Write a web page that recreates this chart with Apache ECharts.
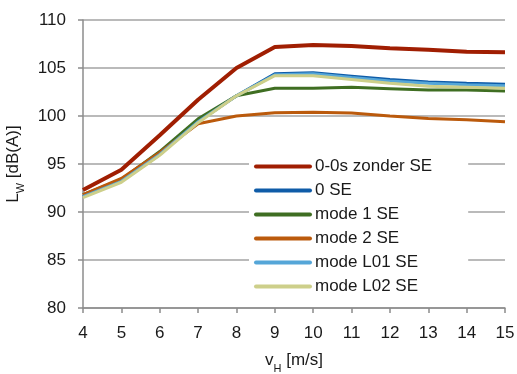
<!DOCTYPE html>
<html>
<head>
<meta charset="utf-8">
<script src="https://cdn.jsdelivr.net/npm/echarts@6/dist/echarts.min.js"></script>
<style>
  html, body { margin: 0; padding: 0; background: #fff; }
  #chart { width: 517px; height: 374px; }
</style>
</head>
<body>
<div id="chart"></div>
<script>
// Wind speed at hub height (m/s)
const windSpeeds = [4, 5, 6, 7, 8, 9, 10, 11, 12, 13, 14, 15];

// Sound power level per operating mode, dB(A)
const zonderSE = [92.3, 94.4, 98.0, 101.7, 105.0, 107.2, 107.4, 107.3, 107.05, 106.9, 106.7, 106.65];
const se0      = [91.6, 93.2, 96.0, 99.4, 102.1, 104.4, 104.5, 104.15, 103.8, 103.55, 103.4, 103.3];
const mode1SE  = [91.8, 93.4, 96.3, 99.7, 102.1, 102.9, 102.9, 103.0, 102.85, 102.7, 102.7, 102.6];
const mode2SE  = [91.8, 93.5, 96.2, 99.2, 100.0, 100.35, 100.4, 100.3, 100.0, 99.75, 99.6, 99.4];
const modeL01  = [91.6, 93.2, 96.0, 99.4, 102.1, 104.3, 104.4, 104.0, 103.65, 103.4, 103.25, 103.15];
const modeL02  = [91.5, 93.1, 95.9, 99.3, 102.1, 104.2, 104.2, 103.8, 103.4, 103.1, 103.0, 102.9];

const seriesNames = ['0-0s zonder SE', '0 SE', 'mode 1 SE', 'mode 2 SE', 'mode L01 SE', 'mode L02 SE'];
const seriesValues = [zonderSE, se0, mode1SE, mode2SE, modeL01, modeL02];
const seriesColors = ['#a01e02', '#0f5ca8', '#3f6e22', '#bb5a0c', '#55a6d8', '#cdcf8a'];
const seriesWidths = [4, 3, 3, 3, 3, 3];

const font = 'Liberation Sans, Arial, sans-serif';
const textColor = '#1a1a1a';

const chart = echarts.init(document.getElementById('chart'), null, { renderer: 'canvas' });

chart.setOption({
  animation: false,
  backgroundColor: '#fff',
  grid: { left: 83, right: 12, top: 20, bottom: 66, containLabel: false, outerBoundsMode: 'none' },
  legend: {
    orient: 'vertical',
    left: 249,
    top: 153,
    padding: [4, 36, 6, 5],
    backgroundColor: '#fff',
    itemWidth: 54,
    itemHeight: 14,
    itemGap: 5,
    itemStyle: { opacity: 0 },
    lineStyle: { width: 4, cap: 'round' },
    textStyle: { fontFamily: font, fontSize: 17, color: textColor, lineHeight: 19 },
    data: seriesNames
  },
  xAxis: {
    type: 'value',
    min: 4,
    max: 15,
    interval: 1,
    name: '{a|v}{sub|H}{a| [m/s]}',
    nameLocation: 'middle',
    nameGap: 44,
    nameTextStyle: {
      rich: {
        a: { fontFamily: font, fontSize: 17, color: textColor },
        sub: { fontFamily: font, fontSize: 11, color: textColor, verticalAlign: 'bottom', padding: [0, 0, -5, 0] }
      }
    },
    axisLine: { lineStyle: { color: '#8c8c8c', width: 1.5 } },
    axisTick: { show: true, length: 5, lineStyle: { color: '#8c8c8c', width: 1.5 } },
    axisLabel: { fontFamily: font, fontSize: 17, color: textColor, margin: 17 },
    splitLine: { show: false }
  },
  yAxis: {
    type: 'value',
    min: 80,
    max: 110,
    interval: 5,
    name: '{a|L}{sub|W}{a| [dB(A)]}',
    nameLocation: 'middle',
    nameGap: 54,
    nameRotate: 90,
    nameTextStyle: {
      rich: {
        a: { fontFamily: font, fontSize: 17, color: textColor },
        sub: { fontFamily: font, fontSize: 11, color: textColor, verticalAlign: 'bottom', padding: [0, 0, -5, 0] }
      }
    },
    axisLine: { show: true, lineStyle: { color: '#8c8c8c', width: 1.5 } },
    axisTick: { show: true, length: 5, lineStyle: { color: '#8c8c8c', width: 1.5 } },
    axisLabel: { fontFamily: font, fontSize: 17, color: textColor, margin: 17 },
    splitLine: { show: true, lineStyle: { color: '#a3a3a3', width: 1.5 } }
  },
  series: seriesNames.map((name, i) => ({
    name: name,
    type: 'line',
    showSymbol: false,
    symbol: 'none',
    color: seriesColors[i],
    lineStyle: { color: seriesColors[i], width: seriesWidths[i] },
    data: windSpeeds.map((v, j) => [v, seriesValues[i][j]]),
    z: 2 + i
  }))
});
</script>
</body>
</html>
